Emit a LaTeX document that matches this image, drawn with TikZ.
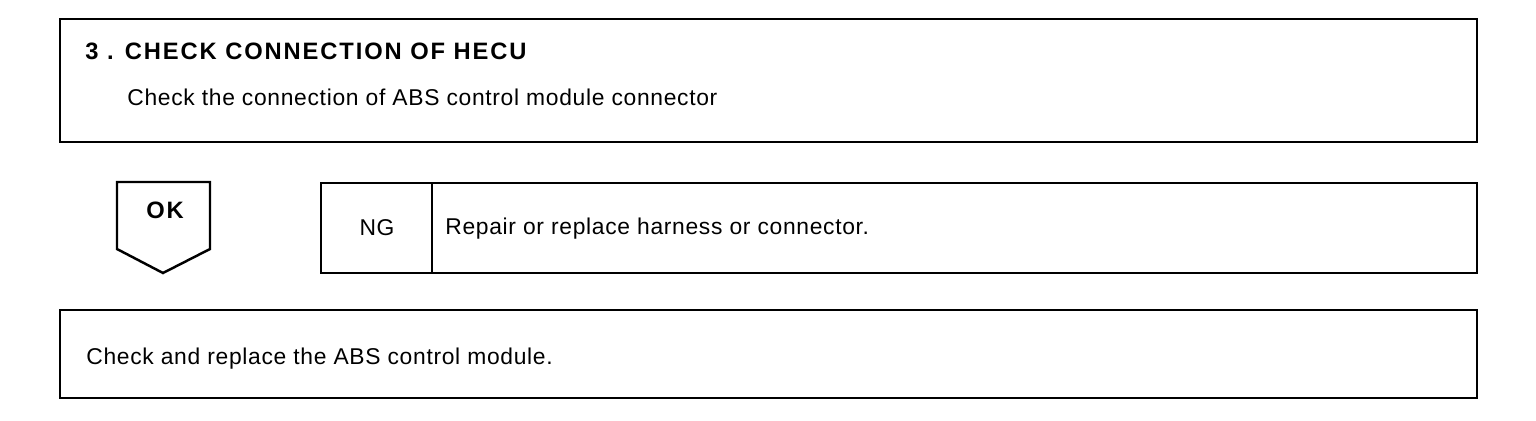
\documentclass[tikz,border=0pt]{standalone}
\usepackage{fontspec}
\setmainfont{Liberation Sans}
\usetikzlibrary{positioning}

\begin{document}
\begin{tikzpicture}[
    x=0.02cm, y=-0.02cm,
    frame/.style={draw=black, line width=1.4pt},
    label/.style={inner sep=0pt, font=\fontsize{13}{15}\selectfont\addfontfeatures{LetterSpace=3}},
    heading/.style={inner sep=0pt, font=\fontsize{13.5}{16}\selectfont\bfseries\addfontfeatures{LetterSpace=8}}
]
    \useasboundingbox (0,0) rectangle (1536,420);

    % step 3 box
    \draw [frame] (60,19) rectangle (1477,142);
    \node (title) [heading, anchor=base west] at (85,59) {3 . CHECK CONNECTION OF HECU};
    \node (task) [label, anchor=base west] at (127,105) {Check the connection of ABS control module connector};

    % OK marker
    \draw [frame] (117,182) -- (210,182) -- (210,249) -- (163,273) -- (117,249) -- cycle;
    \node (ok) [heading, anchor=base] at (165,218) {OK};

    % NG branch
    \draw [frame] (321,183) rectangle (1477,273);
    \draw [frame] (432,183) -- (432,273);
    \node (ng) [label, anchor=base] at (377,235) {NG};
    \node (repair) [label, anchor=base west] at (445,234) {Repair or replace harness or connector.};

    % final action
    \draw [frame] (60,310) rectangle (1477,398);
    \node (final) [label, anchor=base west] at (86,364) {Check and replace the ABS control module.};
\end{tikzpicture}
\end{document}
